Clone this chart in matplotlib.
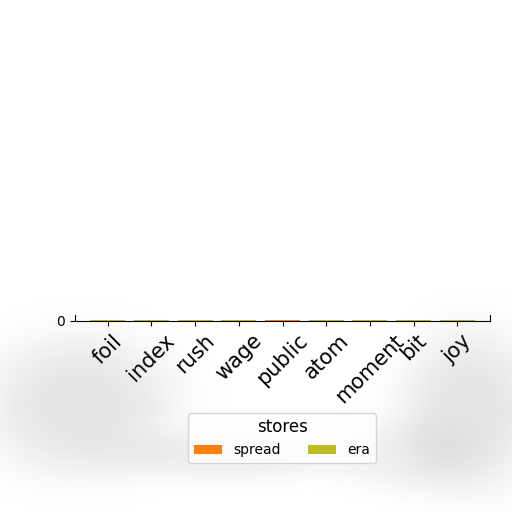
import matplotlib
matplotlib.use("Agg")
import matplotlib.pyplot as plt
import numpy as np

categories = ["foil", "index", "rush", "wage", "public", "atom", "moment", "bit", "joy"]
spread = [0.4, 0.6, 0.3, 0.5, 0.7, 0.4, 0.6, 0.3, 0.5]
era = [0.3, 0.2, 0.4, 0.3, 0.2, 0.5, 0.3, 0.4, 0.4]

fig = plt.figure(figsize=(5.12, 5.12), dpi=100)

# soft grey haze in the lower half of the picture
H = W = 512
yy, xx = np.mgrid[0:H, 0:W]
haze = np.zeros((H, W))
def blob(cx, cy, rx, ry, a):
    return a * np.exp(-(((xx - cx) / rx) ** 2 + ((yy - cy) / ry) ** 2) ** 1.5)
haze += blob(80, 405, 95, 70, 0.16)
haze += blob(470, 410, 70, 80, 0.16)
haze += blob(230, 455, 110, 25, 0.10)
haze += blob(400, 455, 70, 35, 0.08)
haze = np.clip(haze, 0, 0.2)
rgba = np.ones((H, W, 4))
rgba[..., :3] = 0.35
rgba[..., 3] = haze
fig.figimage(rgba[::-1], xo=0, yo=0, zorder=0, origin="lower")

ax = fig.add_axes([75/512, (512-321)/512, 415/512, 6/512])
ax.patch.set_alpha(0)

x = np.arange(len(categories))
ax.bar(x, spread, color="#ff7f0e", label="spread", width=0.8)
ax.bar(x, era, bottom=spread, color="#bcbd22", label="era", width=0.8)
ax.set_xlim(-0.75, len(categories) - 0.25)
ax.set_ylim(0, 8)
ax.set_yticks([0])
ax.tick_params(axis="y", labelsize=10)
ax.set_xticks(x)
ax.set_xticklabels(categories, rotation=45, ha="center", fontsize=15)
ax.spines["top"].set_visible(False)

leg = fig.legend(title="stores", loc="upper center", bbox_to_anchor=(282/512, (512-406)/512),
                 ncol=2, fontsize=10, title_fontsize=12)

fig.savefig("out.png", dpi=100)
